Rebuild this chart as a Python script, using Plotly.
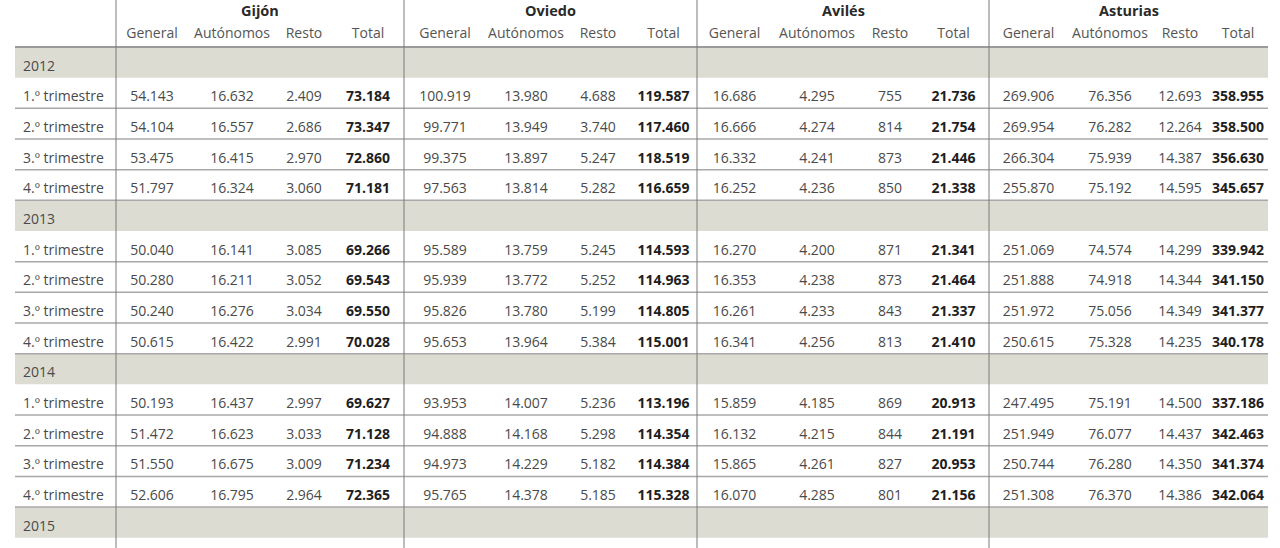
import plotly.graph_objects as go

# ---------------- data ----------------
years = ["2012", "2013", "2014", "2015"]
quarters = ["1.º trimestre", "2.º trimestre", "3.º trimestre", "4.º trimestre"]
regions = ["Gijón", "Oviedo", "Avilés", "Asturias"]
metrics = ["General", "Autónomos", "Resto", "Total"]

# 12 quarters: 2012 Q1..Q4, 2013 Q1..Q4, 2014 Q1..Q4
gijon_general = [54143, 54104, 53475, 51797, 50040, 50280, 50240, 50615, 50193, 51472, 51550, 52606]
gijon_autonomos = [16632, 16557, 16415, 16324, 16141, 16211, 16276, 16422, 16437, 16623, 16675, 16795]
gijon_resto = [2409, 2686, 2970, 3060, 3085, 3052, 3034, 2991, 2997, 3033, 3009, 2964]
gijon_total = [73184, 73347, 72860, 71181, 69266, 69543, 69550, 70028, 69627, 71128, 71234, 72365]

oviedo_general = [100919, 99771, 99375, 97563, 95589, 95939, 95826, 95653, 93953, 94888, 94973, 95765]
oviedo_autonomos = [13980, 13949, 13897, 13814, 13759, 13772, 13780, 13964, 14007, 14168, 14229, 14378]
oviedo_resto = [4688, 3740, 5247, 5282, 5245, 5252, 5199, 5384, 5236, 5298, 5182, 5185]
oviedo_total = [119587, 117460, 118519, 116659, 114593, 114963, 114805, 115001, 113196, 114354, 114384, 115328]

aviles_general = [16686, 16666, 16332, 16252, 16270, 16353, 16261, 16341, 15859, 16132, 15865, 16070]
aviles_autonomos = [4295, 4274, 4241, 4236, 4200, 4238, 4233, 4256, 4185, 4215, 4261, 4285]
aviles_resto = [755, 814, 873, 850, 871, 873, 843, 813, 869, 844, 827, 801]
aviles_total = [21736, 21754, 21446, 21338, 21341, 21464, 21337, 21410, 20913, 21191, 20953, 21156]

asturias_general = [269906, 269954, 266304, 255870, 251069, 251888, 251972, 250615, 247495, 251949, 250744, 251308]
asturias_autonomos = [76356, 76282, 75939, 75192, 74574, 74918, 75056, 75328, 75191, 76077, 76280, 76370]
asturias_resto = [12693, 12264, 14387, 14595, 14299, 14344, 14349, 14235, 14500, 14437, 14350, 14386]
asturias_total = [358955, 358500, 356630, 345657, 339942, 341150, 341377, 340178, 337186, 342463, 341374, 342064]

series = {
    "Gijón": [gijon_general, gijon_autonomos, gijon_resto, gijon_total],
    "Oviedo": [oviedo_general, oviedo_autonomos, oviedo_resto, oviedo_total],
    "Avilés": [aviles_general, aviles_autonomos, aviles_resto, aviles_total],
    "Asturias": [asturias_general, asturias_autonomos, asturias_resto, asturias_total],
}

# ---------------- layout constants ----------------
W, H = 1280, 548
LEFT = 15
TABLE_TOP = 19       # top of the table trace (header cell top)
HEADER_H = 33        # header cell height (text sits in its upper part)
RULE_Y = 47          # y of the rule under the column headers
TEXT_SHIFT = TABLE_TOP + HEADER_H - RULE_Y  # text sits lower inside each band
ROW_H = 30.67
label_width = 101
col_widths = {
    "Gijón": [72, 88, 56, 72],
    "Oviedo": [82, 80, 64, 67],
    "Avilés": [75, 90, 56, 71],
    "Asturias": [79, 84, 56, 60],
}
BAND = "#dddcd3"
TXT = "#4a4a4a"
BOLD = "#1e1e1e"
FONT = "Open Sans"
CLEAR = "rgba(0,0,0,0)"


def fmt(v):
    return f"{v:,}".replace(",", ".")


# ---------------- build rows ----------------
row_labels = []
is_year = []
row_index = []  # quarter index or None
for yi, y in enumerate(years):
    row_labels.append(y)
    is_year.append(True)
    row_index.append(None)
    if yi * 4 < len(gijon_general):
        for qi, q in enumerate(quarters):
            row_labels.append(q)
            is_year.append(False)
            row_index.append(yi * 4 + qi)

columns = [row_labels]
widths = [label_width]
header_vals = [""]
cell_colors = [TXT]
cell_weights = ["normal"]
for reg in regions:
    for mi, m in enumerate(metrics):
        vals = series[reg][mi]
        col = ["" if idx is None else fmt(vals[idx]) for idx in row_index]
        columns.append(col)
        widths.append(col_widths[reg][mi])
        header_vals.append(m)
        cell_colors.append(BOLD if m == "Total" else TXT)
        cell_weights.append("bold" if m == "Total" else "normal")

total_w = sum(widths)
x0 = LEFT / W
x1 = (LEFT + total_w) / W

fig = go.Figure(
    go.Table(
        domain=dict(x=[x0, x1], y=[0, 1 - TABLE_TOP / H]),
        columnwidth=widths,
        header=dict(
            values=header_vals,
            height=HEADER_H,
            align=["left"] + ["center"] * (len(columns) - 1),
            fill=dict(color=CLEAR),
            line=dict(color=CLEAR, width=0),
            font=dict(family=FONT, size=14, color="#555555"),
        ),
        cells=dict(
            values=columns,
            height=ROW_H,
            align=["left"] + ["center"] * (len(columns) - 1),
            fill=dict(color=CLEAR),
            line=dict(color=CLEAR, width=0),
            font=dict(family=FONT, size=14, color=cell_colors, weight=cell_weights),
        ),
    )
)

# ---------------- bands, separators & group titles ----------------
shapes = []
annotations = []


def px_to_paper_x(px):
    return px / W


def px_to_paper_y(py):
    return 1 - py / H


# grey bands for the year rows
for i, y in enumerate(is_year):
    if y:
        top = RULE_Y + i * ROW_H
        shapes.append(dict(type="rect", xref="paper", yref="paper", layer="below",
                           x0=x0, x1=x1, y0=px_to_paper_y(top + ROW_H), y1=px_to_paper_y(top),
                           fillcolor=BAND, line=dict(width=0)))

# header bottom rule
shapes.append(dict(type="line", xref="paper", yref="paper", layer="below",
                   x0=x0, x1=x1, y0=px_to_paper_y(RULE_Y), y1=px_to_paper_y(RULE_Y),
                   line=dict(color="#9a9a9a", width=2)))
# row separators
for i in range(1, len(row_labels)):
    if is_year[i - 1]:
        continue
    py = RULE_Y + i * ROW_H
    shapes.append(dict(type="line", xref="paper", yref="paper", layer="below",
                       x0=x0, x1=x1, y0=px_to_paper_y(py), y1=px_to_paper_y(py),
                       line=dict(color="#a8a8a8", width=1.5)))

# group separators and titles
cx = LEFT + label_width
for reg in regions:
    gw = sum(col_widths[reg])
    shapes.append(dict(type="line", xref="paper", yref="paper", layer="below",
                       x0=px_to_paper_x(cx), x1=px_to_paper_x(cx), y0=0, y1=1,
                       line=dict(color="#7a7a7a", width=1)))
    annotations.append(dict(text=f"<b>{reg}</b>", xref="paper", yref="paper",
                            x=px_to_paper_x(cx + gw / 2), y=px_to_paper_y(10),
                            xanchor="center", yanchor="middle", showarrow=False,
                            font=dict(family=FONT, size=14.5, color="#2a2a2a")))
    cx += gw

fig.update_layout(
    width=W, height=H,
    margin=dict(l=0, r=0, t=0, b=0),
    paper_bgcolor="white",
    plot_bgcolor="white",
    shapes=shapes,
    annotations=annotations,
)

fig.write_html("out.html", config={"displayModeBar": False},
               post_script="document.body.style.margin='0px';")
